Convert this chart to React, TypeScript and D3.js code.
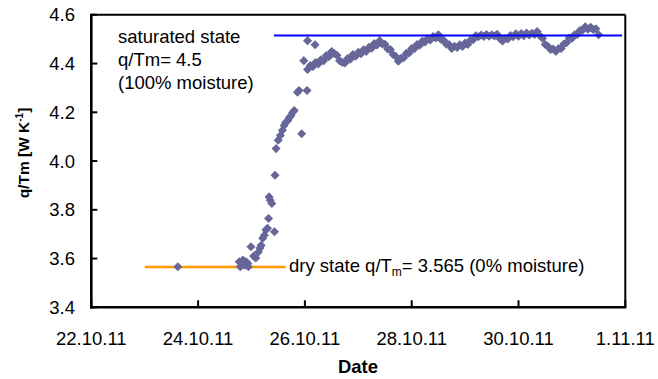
import React from "react";
import * as d3 from "d3";

// Day-of-October (32 = 1 Nov 2011), fractional days
const riseDays = [23.62, 24.77, 24.79, 24.84, 24.87, 24.9, 24.93, 24.94, 24.99, 25.04, 25.08, 25.13, 25.16, 25.18, 25.21, 25.24, 25.27, 25.3, 25.32, 25.33, 25.35, 25.38, 25.43, 25.44, 25.46, 25.5, 25.54, 25.58, 25.61, 25.64, 25.68, 25.71, 25.74, 25.77, 25.8, 25.86, 25.89, 25.94, 25.98, 26.04, 26.05, 26.19];
const riseValues = [3.566, 3.587, 3.566, 3.594, 3.573, 3.587, 3.58, 3.566, 3.648, 3.61, 3.602, 3.627, 3.643, 3.655, 3.683, 3.696, 3.717, 3.724, 3.764, 3.853, 3.839, 3.826, 3.71, 3.942, 4.051, 4.085, 4.105, 4.126, 4.146, 4.158, 4.166, 4.179, 4.187, 4.199, 4.207, 4.282, 4.289, 4.112, 4.412, 4.289, 4.494, 4.477];

const bandDays = [26.05, 26.1, 26.15, 26.2, 26.25, 26.3, 26.35, 26.4, 26.45, 26.5, 26.55, 26.6, 26.65, 26.7, 26.75, 26.8, 26.85, 26.9, 26.95, 27.0, 27.05, 27.1, 27.15, 27.2, 27.25, 27.3, 27.35, 27.4, 27.45, 27.5, 27.55, 27.6, 27.65, 27.7, 27.75, 27.8, 27.85, 27.9, 27.95, 28.0, 28.05, 28.1, 28.15, 28.2, 28.25, 28.3, 28.35, 28.4, 28.45, 28.5, 28.55, 28.6, 28.65, 28.7, 28.75, 28.8, 28.85, 28.9, 28.95, 29.0, 29.05, 29.1, 29.15, 29.2, 29.25, 29.3, 29.35, 29.4, 29.45, 29.5, 29.55, 29.6, 29.65, 29.7, 29.75, 29.8, 29.85, 29.9, 29.95, 30.0, 30.05, 30.1, 30.15, 30.2, 30.25, 30.3, 30.35, 30.4, 30.45, 30.5, 30.55, 30.6, 30.65, 30.7, 30.75, 30.8, 30.85, 30.9, 30.95, 31.0, 31.05, 31.1, 31.15, 31.2, 31.25, 31.3, 31.35, 31.4, 31.45, 31.5];
const bandValues = [4.376, 4.392, 4.388, 4.404, 4.398, 4.416, 4.412, 4.433, 4.428, 4.449, 4.441, 4.434, 4.412, 4.404, 4.402, 4.421, 4.418, 4.437, 4.43, 4.446, 4.44, 4.457, 4.45, 4.467, 4.463, 4.482, 4.476, 4.494, 4.48, 4.479, 4.46, 4.458, 4.437, 4.43, 4.409, 4.422, 4.424, 4.442, 4.443, 4.462, 4.461, 4.478, 4.475, 4.492, 4.488, 4.503, 4.497, 4.511, 4.505, 4.518, 4.499, 4.496, 4.479, 4.478, 4.462, 4.471, 4.466, 4.477, 4.47, 4.484, 4.478, 4.497, 4.498, 4.514, 4.51, 4.517, 4.511, 4.519, 4.512, 4.518, 4.513, 4.52, 4.503, 4.493, 4.503, 4.501, 4.515, 4.51, 4.522, 4.512, 4.523, 4.514, 4.525, 4.517, 4.524, 4.519, 4.531, 4.514, 4.504, 4.478, 4.471, 4.458, 4.46, 4.45, 4.462, 4.462, 4.48, 4.485, 4.505, 4.503, 4.518, 4.519, 4.536, 4.537, 4.551, 4.541, 4.549, 4.54, 4.543, 4.518];

const saturatedLine = { from: 25.42, to: 31.94, value: 4.515 };
const dryLine = { from: 23.0, to: 25.64, value: 3.565 };

const yTicks = [3.4, 3.6, 3.8, 4.0, 4.2, 4.4, 4.6];
const xTickDays = [22, 24, 26, 28, 30, 32];

const toDate = (d: number) => new Date(Date.UTC(2011, 9, 22) + (d - 22) * 86400000);

const W = 658;
const H = 379;
const FONT = "'Liberation Sans', Arial, sans-serif";

export default function App() {
  const x = d3.scaleUtc().domain([toDate(22), toDate(32)]).range([91.3, 625.3]);
  const y = d3.scaleLinear().domain([3.4, 4.6]).range([307.3, 14.8]);
  const fmt = d3.utcFormat("%-d.%m.%y");
  const diamond = d3.symbol().type(d3.symbolDiamond2).size(52)();

  const pts = [
    ...riseDays.map((d, i) => ({ d, v: riseValues[i] })),
    ...bandDays.map((d, i) => ({ d, v: bandValues[i] })),
  ];

  const [x0, x1] = x.range();
  const [y0, y1] = y.range();

  return (
    <svg width={W} height={H} style={{ position: "absolute", left: 0, top: 0, background: "#fff" }} fontFamily={FONT}>
      <rect x={0} y={0} width={W} height={H} fill="#fff" />
      {/* plot frame */}
      <line x1={x0} x2={x1} y1={y1} y2={y1} stroke="#000" strokeWidth={2} />
      <line x1={x1} x2={x1} y1={y1} y2={y0} stroke="#000" strokeWidth={2} />
      <line x1={x0} x2={x0} y1={y1 - 1} y2={y0 + 1.2} stroke="#000" strokeWidth={2.6} />
      <line x1={x0 - 1.3} x2={x1 + 1} y1={y0} y2={y0} stroke="#000" strokeWidth={2.6} />

      {/* y ticks */}
      {yTicks.map((t) => (
        <g key={"y" + t}>
          <line x1={x0} x2={x0 + 6} y1={y(t)} y2={y(t)} stroke="#000" strokeWidth={2} />
          <text x={75} y={y(t)} dy="0.35em" textAnchor="end" fontSize={18.5} fill="#000">
            {t.toFixed(1)}
          </text>
        </g>
      ))}
      {/* x ticks */}
      {xTickDays.map((d) => (
        <g key={"x" + d}>
          <line x1={x(toDate(d))} x2={x(toDate(d))} y1={y0} y2={y0 - 7} stroke="#000" strokeWidth={2} />
          <text x={x(toDate(d))} y={345} textAnchor="middle" fontSize={18.5} fill="#000">
            {fmt(toDate(d))}
          </text>
        </g>
      ))}

      {/* reference lines */}
      <line
        x1={x(toDate(dryLine.from))}
        x2={x(toDate(dryLine.to))}
        y1={y(dryLine.value)}
        y2={y(dryLine.value)}
        stroke="#FF9900"
        strokeWidth={2.5}
      />

      {/* data */}
      {pts.map((p, i) => (
        <path key={i} d={diamond!} transform={`translate(${x(toDate(p.d))},${y(p.v)})`} fill="#666699" />
      ))}

      <line
        x1={x(toDate(saturatedLine.from))}
        x2={x(toDate(saturatedLine.to))}
        y1={y(saturatedLine.value)}
        y2={y(saturatedLine.value)}
        stroke="#0000FF"
        strokeWidth={2.2}
      />

      {/* annotations */}
      <text x={118} y={43} fontSize={18.5} fill="#000">saturated state</text>
      <text x={118} y={66} fontSize={18.5} fill="#000">q/Tm= 4.5</text>
      <text x={118} y={89} fontSize={18.5} fill="#000">(100% moisture)</text>
      <text x={289} y={272} fontSize={18.5} fill="#000">
        dry state q/T
        <tspan fontSize={12} dy={4}>m</tspan>
        <tspan dy={-4}>= 3.565 (0% moisture)</tspan>
      </text>

      {/* axis titles */}
      <text x={358} y={373} textAnchor="middle" fontSize={18.5} fontWeight="bold" fill="#000">Date</text>
      <text transform="translate(29,153) rotate(-90)" textAnchor="middle" fontSize={15.5} fontWeight="bold" fill="#000">
        q/Tm [W K<tspan fontSize={10} dy={-6}>-1</tspan>
        <tspan dy={6}>]</tspan>
      </text>
    </svg>
  );
}
